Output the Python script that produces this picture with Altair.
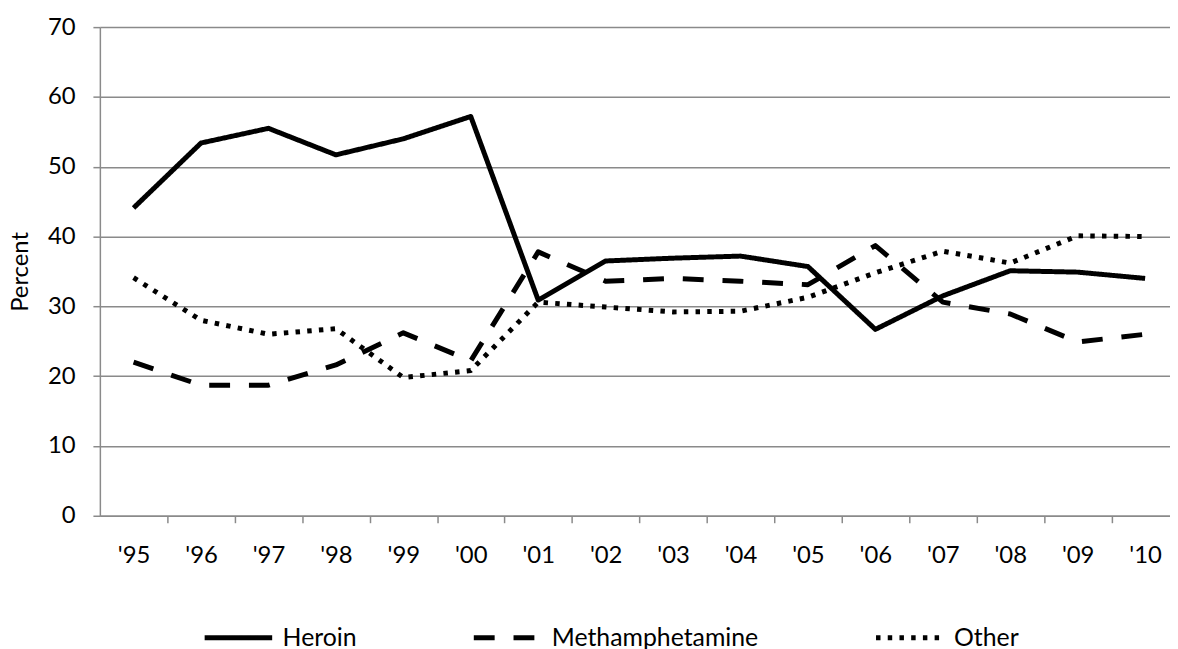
import json
import altair as alt
import pandas as pd

years = ["'95", "'96", "'97", "'98", "'99", "'00", "'01", "'02",
         "'03", "'04", "'05", "'06", "'07", "'08", "'09", "'10"]
heroin = [44.1, 53.4, 55.5, 51.7, 54.0, 57.2, 30.9, 36.5,
          36.9, 37.2, 35.7, 26.7, 31.5, 35.1, 34.9, 34.0]
meth = [22.0, 18.7, 18.7, 21.6, 26.2, 22.2, 37.8, 33.6,
        34.0, 33.6, 33.1, 38.7, 30.6, 28.9, 24.9, 26.0]
other = [34.1, 28.0, 26.0, 26.8, 19.8, 20.8, 30.6, 29.9,
         29.2, 29.3, 31.3, 34.8, 37.9, 36.2, 40.1, 40.0]
series = ["Heroin", "Methamphetamine", "Other"]

rows = []
for i, yr in enumerate(years):
    for name, vals in zip(series, [heroin, meth, other]):
        rows.append({"idx": i, "year": yr, "series": name, "value": vals[i]})
df = pd.DataFrame(rows)

FONT = "Lato"
GRID = "#8a8a8a"
band = 67.9
W = 1077.5
H = 492
xmax = -0.5 + W / band

label_expr = json.dumps(years) + "[datum.value]"

chart = alt.Chart(df).mark_line(strokeWidth=5, color="black", strokeJoin="round").encode(
    x=alt.X("idx:Q",
            scale=alt.Scale(domain=[-0.5, xmax], nice=False, zero=False),
            axis=alt.Axis(values=list(range(16)), labelExpr=label_expr,
                          tickOffset=band / 2, labelOffset=-band / 2,
                          grid=False, title=None, labelFlush=False,
                          domainColor=GRID, domainWidth=1.5,
                          tickColor=GRID, tickWidth=1.5, tickSize=7,
                          labelFont=FONT, labelFontSize=24, labelColor="black",
                          labelPadding=21, labelOverlap=False)),
    y=alt.Y("value:Q",
            scale=alt.Scale(domain=[0, 70], nice=False, zero=True),
            axis=alt.Axis(values=[0, 10, 20, 30, 40, 50, 60, 70],
                          grid=True, gridColor=GRID, gridWidth=1.5,
                          domainColor=GRID, domainWidth=1.5,
                          tickColor=GRID, tickWidth=1.5, tickSize=7,
                          labelFont=FONT, labelFontSize=24, labelColor="black",
                          labelPadding=18,
                          title="Percent", titleFont=FONT, titleFontSize=24,
                          titleFontWeight="normal", titleColor="black",
                          titleX=-79.5, titleY=H / 2, titleAngle=270,
                          titleAlign="center", titleBaseline="middle")),
    strokeDash=alt.StrokeDash("series:N",
                              scale=alt.Scale(domain=series,
                                              range=[[1, 0], [21, 19], [4.5, 7.3]]),
                              legend=alt.Legend(title=None, orient="none",
                                                legendX=103, legendY=578,
                                                direction="horizontal",
                                                symbolType="stroke",
                                                symbolSize=4624,
                                                symbolStrokeWidth=5,
                                                symbolStrokeColor="black",
                                                labelFont=FONT, labelFontSize=25,
                                                labelColor="black",
                                                labelOffset=8, labelLimit=400,
                                                columnPadding=107)),
    detail="series:N",
).properties(
    width=W, height=H,
    autosize=alt.AutoSizeParams(type="none"),
    padding={"left": 92.5, "top": 17, "right": 0, "bottom": 145},
).configure_view(stroke=None)

chart.save("out.html", embed_options={"renderer": "svg", "actions": False})
